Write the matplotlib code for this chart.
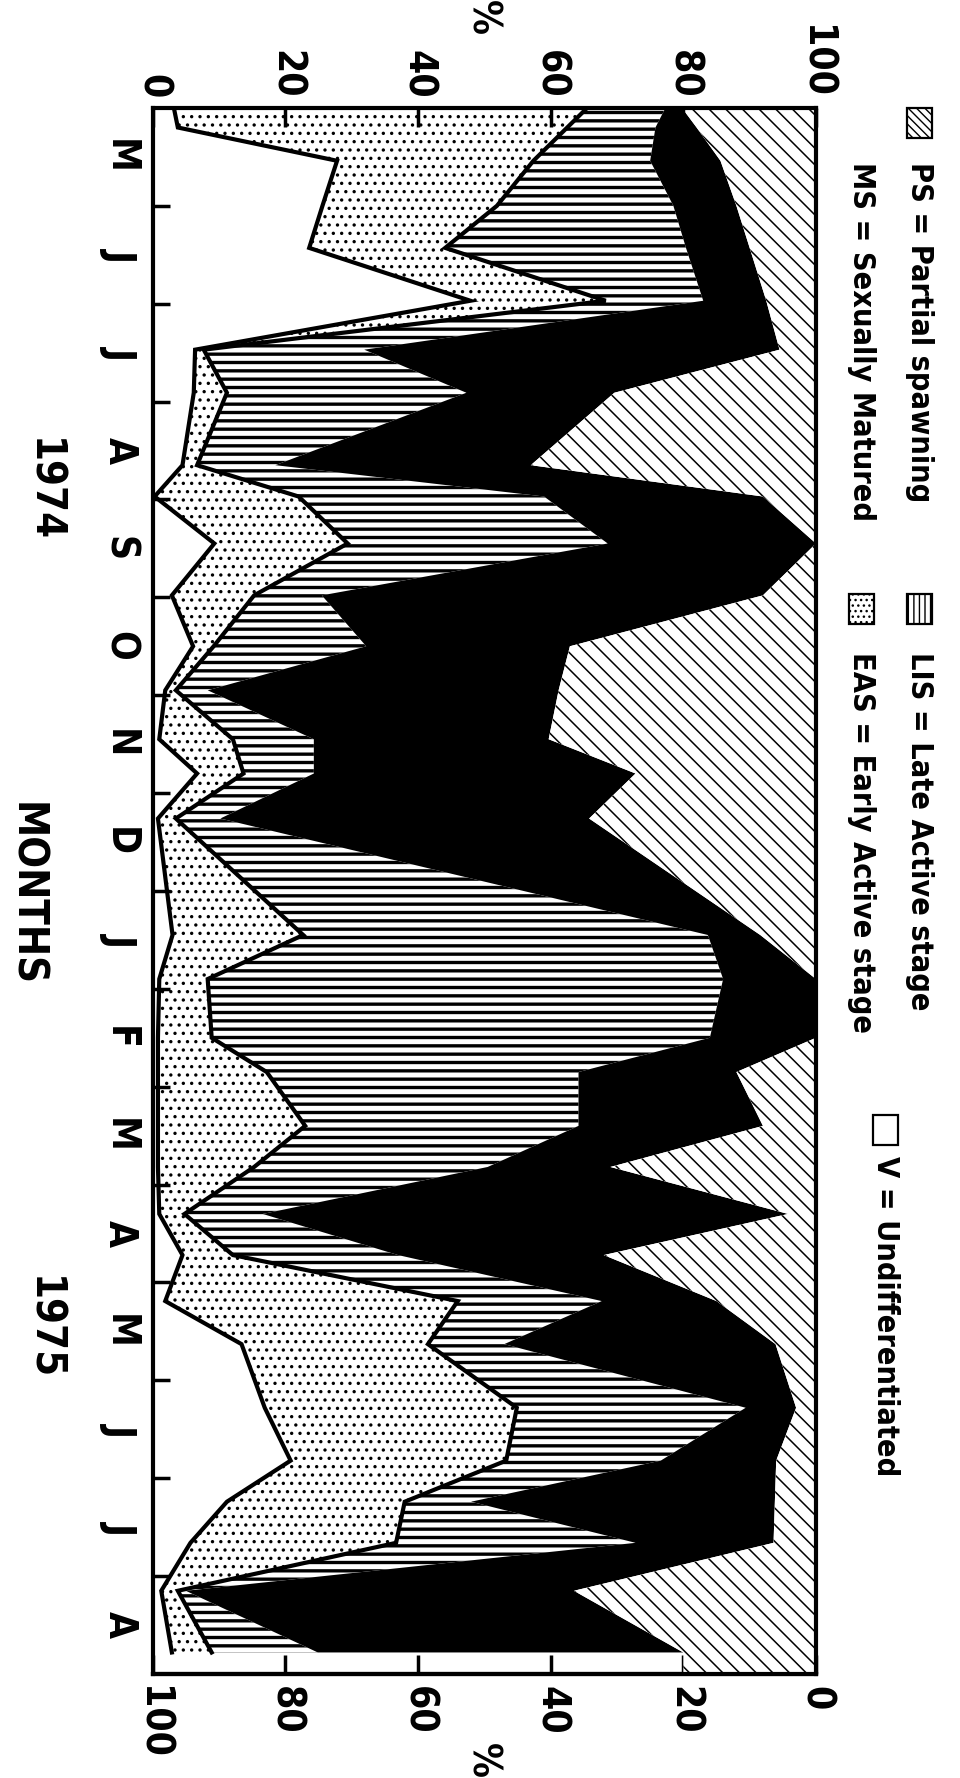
import matplotlib
matplotlib.use('Agg')
from matplotlib import pyplot as plt
from matplotlib import font_manager
from matplotlib.patches import Rectangle
import matplotlib.transforms as mtransforms
import numpy as np

# sampling dates, in months counted from 1 May 1974 (0) to 31 Aug 1975 (16)
sample_month = [0.0, 0.2, 0.54, 1.0, 1.43, 1.97, 2.47, 2.91, 3.65, 3.97,
                4.45, 4.98, 5.5, 5.95, 6.45, 6.8, 7.26, 8.45, 8.9, 9.5,
                9.85, 10.4, 10.82, 11.3, 11.72, 12.19, 12.63, 13.28, 13.82,
                14.24, 14.66, 15.15, 15.78]

# percentage of each gonad stage in every sample
pct_V = [3.2, 3.8, 27.8, 25.6, 23.6, 47.9, 6.4, 6.2, 4.5, 0.3,
         9.3, 2.9, 6.1, 1.9, 1.0, 6.7, 0.8, 3.0, 1.0, 0.8,
         0.8, 0.8, 0.8, 1.0, 4.5, 1.9, 13.4, 16.9, 20.8,
         11.2, 5.7, 1.3, 2.9]
pct_EAS = [62.3, 58.7, 29.6, 26.3, 20.5, 20.4, 1.3, 5.0, 2.2, 21.7,
           20.1, 12.4, 3.1, 1.6, 11.1, 7.0, 2.7, 19.7, 7.3, 8.1,
           16.4, 22.2, 14.5, 3.8, 7.6, 44.1, 28.1, 38.0, 32.5,
           26.8, 31.0, 2.5, 6.0]
pct_LIS = [11.8, 13.3, 17.6, 26.6, 36.3, 14.7, 24.2, 36.1, 11.8, 37.0,
           39.2, 10.2, 23.0, 4.8, 12.2, 10.6, 6.7, 61.0, 77.7, 75.1,
           47.0, 41.2, 35.2, 11.8, 24.9, 21.7, 11.5, 34.5, 23.3,
           10.0, 36.1, 1.2, 16.0]
pct_MS = [2.5, 6.2, 10.6, 9.5, 9.6, 9.5, 62.6, 22.3, 38.5, 33.0,
          31.4, 66.5, 30.7, 52.9, 35.4, 48.5, 55.6, 7.9, 14.0, 16.0,
          23.8, 27.8, 18.5, 79.2, 31.0, 17.3, 40.9, 7.6, 17.4,
          45.8, 20.8, 58.5, 55.1]
pct_PS = [20.2, 18.0, 14.4, 12.0, 10.0, 7.5, 5.5, 30.4, 43.0, 8.0,
          0.0, 8.0, 37.1, 38.8, 40.3, 27.2, 34.2, 8.4, 0.0, 0.0,
          12.0, 8.0, 31.0, 4.2, 32.0, 15.0, 6.1, 3.0, 6.0,
          6.2, 6.4, 36.5, 20.0]

month_labels = ['M', 'J', 'J', 'A', 'S', 'O', 'N', 'D',
                'J', 'F', 'M', 'A', 'M', 'J', 'J', 'A']
pct_ticks = [0, 20, 40, 60, 80, 100]


def pick_condensed():
    # look for any narrow / condensed face, bold if possible
    best = None
    for f in font_manager.fontManager.ttflist:
        narrow = (str(f.stretch) in ('condensed', 'semi-condensed', 'extra-condensed')
                  or 'Condensed' in f.name or 'Narrow' in f.name)
        if not narrow:
            continue
        w = f.weight if isinstance(f.weight, int) else 400
        score = abs(w - 700)
        if best is None or score < best[0]:
            best = (score, f.name, f.stretch)
    return best


found = pick_condensed()
if found:
    plt.rcParams['font.family'] = [found[1], 'DejaVu Sans']
    plt.rcParams['font.stretch'] = found[2]
    k = 1.0
else:
    plt.rcParams['font.family'] = ['DejaVu Sans']
    k = 0.8
plt.rcParams['font.weight'] = 'bold'
plt.rcParams['hatch.color'] = 'black'

t = np.array(sample_month)
stack = np.cumsum(np.vstack([pct_V, pct_EAS, pct_LIS, pct_MS]), axis=0)
n_months = len(month_labels)

fig = plt.figure(figsize=(9.6, 17.78), dpi=100)
ax = fig.add_axes([0.159, 0.0585, 0.691, 0.8808])
ax.set_xlim(0, 100)
ax.set_ylim(n_months, 0)


def hatched(x1, x2, yy, hatch, hlw, face='white'):
    with plt.rc_context({'hatch.linewidth': hlw}):
        pc = ax.fill_betweenx(yy, x1, x2, facecolor=face, edgecolor='black',
                              linewidth=0, hatch=hatch)
    if hasattr(pc, 'set_hatch_linewidth'):
        pc.set_hatch_linewidth(hlw)
    return pc


ax.fill_betweenx(t, 0, stack[0], facecolor='white', linewidth=0)
hatched(stack[0], stack[1], t, '..', 1.2)
hatched(stack[1], stack[2], t, '--', 2.4)
ax.fill_betweenx(t, stack[2], stack[3], facecolor='black', linewidth=0)
# partial spawning band runs on to the bottom frame
t_ps = np.append(t, n_months)
b_ps = np.append(stack[3], stack[3][-1])
hatched(b_ps, 100, t_ps, '\\\\', 1.1)

ax.plot(stack[0], t, color='black', lw=3, solid_joinstyle='miter')
ax.plot(stack[1], t, color='black', lw=3, solid_joinstyle='miter')

for s in ax.spines.values():
    s.set_linewidth(3)
    s.set_zorder(5)

tick_fs = 28 * k

# percentage axis on top (0 -> 100)
ax.xaxis.set_ticks_position('top')
ax.set_xticks(pct_ticks)
ax.set_xticklabels([str(v) for v in pct_ticks])
ax.tick_params(axis='x', direction='in', length=14, width=2.5, pad=7,
               labelsize=tick_fs, labelrotation=-90)

# reversed percentage axis on the bottom (100 -> 0)
sec = ax.secondary_xaxis('bottom', functions=(lambda v: 100 - v, lambda v: 100 - v))
sec.set_xticks(pct_ticks)
sec.set_xticklabels([str(v) for v in pct_ticks])
sec.tick_params(axis='x', direction='in', length=14, width=2.5, pad=9,
                labelsize=tick_fs, labelrotation=-90)
sec.spines['bottom'].set_linewidth(3)

# month boundaries on the left
ax.set_yticks(np.arange(1, n_months))
ax.set_yticklabels([])
ax.tick_params(axis='y', direction='in', length=12, width=2.5, left=True, right=False)

lab_tr = mtransforms.blended_transform_factory(ax.transAxes, ax.transData)
for i, m in enumerate(month_labels):
    ax.text(-0.05, i + 0.5, m, transform=lab_tr, rotation=-90, ha='center',
            va='center', fontsize=28, fontweight='bold')
ax.text(-0.165, 3.9, '1974', transform=lab_tr, rotation=-90, ha='center',
        va='center', fontsize=30 * k, fontweight='bold')
ax.text(-0.165, 12.47, '1975', transform=lab_tr, rotation=-90, ha='center',
        va='center', fontsize=30 * k, fontweight='bold')
ax.text(-0.19, 8.03, 'MONTHS', transform=lab_tr, rotation=-90, ha='center',
        va='center', fontsize=30 * k, fontweight='bold')

fig.text(0.502, 0.990, '%', rotation=-90, ha='center', va='center', fontsize=28)
fig.text(0.502, 0.010, '%', rotation=-90, ha='center', va='center', fontsize=28)

# legend, written sideways like the rest of the figure
legend_rows = [
    (0.958, 0.9395, '\\\\\\\\', 0.9089, 'PS = Partial spawning'),
    (0.958, 0.6660, '|||', 0.6333, 'LIS = Late Active stage'),
    (0.897, None, None, 0.9089, 'MS = Sexually Matured'),
    (0.897, 0.6660, '...', 0.6333, 'EAS = Early Active stage'),
    (0.922, 0.3729, '', 0.3498, 'V = Undifferentiated'),
]
for xc, box_top, hatch, text_top, label in legend_rows:
    if box_top is not None:
        w, h = 25 / 960, 30 / 1778
        r = Rectangle((xc - w / 2, box_top - h), w, h, transform=fig.transFigure,
                      facecolor='white', edgecolor='black', linewidth=1.6,
                      hatch=hatch)
        fig.add_artist(r)
    fig.text(xc, text_top, label, rotation=-90, ha='center', va='top',
             fontsize=22 * (0.88 if k < 1 else 1.0), fontweight='bold')

fig.savefig('out.png', dpi=100)
